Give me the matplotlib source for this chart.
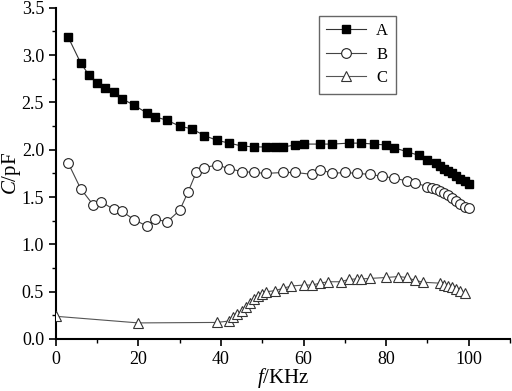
import matplotlib
matplotlib.use("Agg")
import matplotlib.pyplot as plt
from matplotlib.ticker import MultipleLocator, FormatStrFormatter

plt.rcParams['font.family'] = ['Liberation Serif', 'DejaVu Serif']
plt.rcParams['mathtext.fontset'] = 'custom'
plt.rcParams['mathtext.it'] = 'Liberation Serif:italic'
plt.rcParams['mathtext.rm'] = 'Liberation Serif'

# Series A
a_x = [3, 6, 8, 10, 12, 14, 16, 19, 22, 24, 27, 30, 33, 36, 39, 42, 45, 48, 51, 53, 55, 58, 60,
       64, 67, 71, 74, 77, 80, 82, 85, 88, 90, 92, 93, 94, 95, 96, 97, 98, 99, 100]
a_y = [3.19, 2.92, 2.79, 2.71, 2.65, 2.61, 2.54, 2.47, 2.39, 2.35, 2.31, 2.25, 2.22, 2.15, 2.10,
       2.07, 2.04, 2.03, 2.03, 2.03, 2.03, 2.05, 2.06, 2.06, 2.06, 2.07, 2.07, 2.06, 2.05, 2.02,
       1.98, 1.94, 1.89, 1.86, 1.83, 1.80, 1.78, 1.75, 1.72, 1.69, 1.67, 1.64]

# Series B
b_x = [3, 6, 9, 11, 14, 16, 19, 22, 24, 27, 30, 32, 34, 36, 39, 42, 45, 48, 51, 55, 58, 62, 64,
       67, 70, 73, 76, 79, 82, 85, 87, 90, 91, 92, 93, 94, 95, 96, 97, 98, 99, 100]
b_y = [1.86, 1.59, 1.42, 1.45, 1.37, 1.35, 1.26, 1.195, 1.265, 1.24, 1.36, 1.55, 1.76, 1.81,
       1.84, 1.80, 1.77, 1.76, 1.75, 1.76, 1.76, 1.74, 1.79, 1.75, 1.76, 1.75, 1.74, 1.72, 1.70,
       1.67, 1.65, 1.61, 1.60, 1.58, 1.56, 1.54, 1.52, 1.49, 1.46, 1.43, 1.40, 1.38]

# Series C
c_x = [0, 20, 39, 42, 43, 44, 45, 46, 47, 48, 49, 50, 51, 53, 55, 57, 60, 62, 64, 66, 69, 71,
       73, 74, 76, 80, 83, 85, 87, 89, 93, 94, 95, 96, 97, 98, 99]
c_y = [0.24, 0.17, 0.175, 0.19, 0.23, 0.26, 0.30, 0.34, 0.38, 0.42, 0.45, 0.475, 0.50, 0.51,
       0.535, 0.56, 0.57, 0.57, 0.59, 0.605, 0.605, 0.63, 0.635, 0.635, 0.64, 0.65, 0.66, 0.65,
       0.62, 0.60, 0.59, 0.575, 0.56, 0.55, 0.53, 0.51, 0.49]

x_ticks = [0, 20, 40, 60, 80, 100]

fig = plt.figure(figsize=(5.12, 3.91), dpi=100)
ax = fig.add_axes([0.109, 0.133, 0.887, 0.847])

ax.plot(a_x, a_y, color='#333333', lw=0.8, marker='s', ms=6, mfc='black', mec='black',
        label='A', zorder=3)
ax.plot(b_x, b_y, color='#444444', lw=0.8, marker='o', ms=7, mfc='white', mec='#222222',
        mew=0.8, label='B', zorder=3)
ax.plot(c_x, c_y, color='#555555', lw=0.8, marker='^', ms=7.5, mfc='white', mec='#333333',
        mew=0.8, label='C', zorder=3)

ax.set_xlim(0, 110)
ax.set_ylim(0, 3.5)
ax.set_xticks(x_ticks)
ax.xaxis.set_minor_locator(MultipleLocator(10))
ax.yaxis.set_major_locator(MultipleLocator(0.5))
ax.yaxis.set_minor_locator(MultipleLocator(0.25))
ax.yaxis.set_major_formatter(FormatStrFormatter('%.1f'))

for s in ['top', 'right']:
    ax.spines[s].set_visible(False)
for s in ['left', 'bottom']:
    ax.spines[s].set_linewidth(1.5)

ax.tick_params(which='major', direction='out', length=5, width=1.2, labelsize=13)
ax.tick_params(which='minor', direction='out', length=3, width=1.0)

ax.set_xlabel(r'$f$/KHz', fontsize=15)
ax.set_ylabel(r'$C$/pF', fontsize=15)
ax.xaxis.set_label_coords(0.5, -0.118)
ax.xaxis.label.set_va('center')
ax.yaxis.set_label_coords(-0.098, 0.5)
ax.yaxis.label.set_va('center')

leg = ax.legend(loc='upper left', bbox_to_anchor=(0.579, 0.976), borderaxespad=0,
                fontsize=12, frameon=True, fancybox=False, edgecolor='#666666',
                framealpha=1, handlelength=2.4, labelspacing=0.45, borderpad=0.45,
                handletextpad=0.6)
leg.get_frame().set_linewidth(1.0)

fig.savefig('out.png', dpi=100)
